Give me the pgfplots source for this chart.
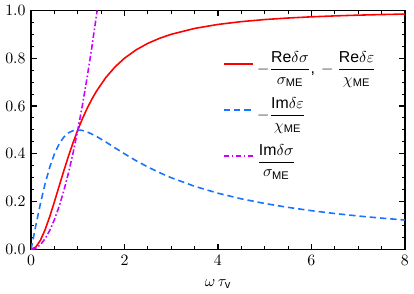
\documentclass[border=0pt]{standalone}
\usepackage{amsmath}
\usepackage{pgfplots}
\pgfplotsset{compat=1.18}
\usepackage{fontspec}
\setmainfont{Liberation Serif}
\newfontfamily\legfont{Liberation Sans}
\definecolor{cred}{rgb}{1,0,0}
\definecolor{cblue}{rgb}{0.1,0.45,1}
\definecolor{cmag}{rgb}{0.8,0,1}
\newcommand{\sv}[1]{\mbox{\legfont #1}}
\newcommand{\ssub}[1]{\mbox{\legfont\scriptsize #1}}
\begin{document}
\begin{tikzpicture}
\begin{axis}[
  scale only axis,
  width=236pt, height=151pt,
  xmin=0, xmax=8, ymin=0, ymax=1,
  xtick={0,2,4,6,8},
  ytick={0,0.2,0.4,0.6,0.8,1.0},
  minor x tick num=3,
  minor y tick num=3,
  yticklabel style={/pgf/number format/fixed,/pgf/number format/fixed zerofill,/pgf/number format/precision=1},
  major tick style={black, line width=0.8pt},
  minor tick style={black, line width=0.6pt},
  major tick length=3.5pt,
  minor tick length=2pt,
  axis line style={black, line width=1.1pt},
  xlabel={$\omega\,\tau_{\ssub{v}}$},
  xlabel style={yshift=-2pt},
  legend style={draw=none, fill=none, at={(0.5,0.855)}, anchor=north west, row sep=10pt, legend cell align=left},
  legend image code/.code={\draw[#1] (0cm,0cm) -- (0.65cm,0cm);},
  clip=true,
]
\addlegendimage{draw=cred, line width=1pt}
\addlegendentry{$-\dfrac{\sv{Re}\delta\sigma}{\sigma_{\ssub{ME}}}\mbox{\legfont\char44}\,-\dfrac{\sv{Re}\delta\varepsilon}{\chi_{\ssub{ME}}}$}
\addlegendimage{draw=cblue, line width=1pt, dash pattern=on 4pt off 2.5pt}
\addlegendentry{$-\dfrac{\sv{Im}\delta\varepsilon}{\chi_{\ssub{ME}}}$}
\addlegendimage{draw=cmag, line width=1pt, dash pattern=on 3.5pt off 1.5pt on 1pt off 1.5pt}
\addlegendentry{$\dfrac{\sv{Im}\delta\sigma}{\sigma_{\ssub{ME}}}$}
\addplot[forget plot, color=cred, line width=1pt] coordinates {
(0,0) (0.1,0.0099) (0.2,0.0385) (0.3,0.0826) (0.4,0.1379) (0.5,0.2) (0.6,0.2647) (0.7,0.3289) (0.8,0.3902) (0.9,0.4475) (1.0,0.5) (1.1,0.5475) (1.2,0.5902) (1.3,0.6283) (1.4,0.6622) (1.6,0.7191) (1.8,0.7642) (2.0,0.8) (2.25,0.8351) (2.5,0.8621) (2.75,0.8832) (3,0.9) (3.5,0.9245) (4,0.9412) (4.5,0.9529) (5,0.9615) (5.5,0.9680) (6,0.9730) (6.5,0.9769) (7,0.98) (7.5,0.9825) (8,0.9846)
};
\addplot[forget plot, color=cblue, line width=1pt, dash pattern=on 4pt off 2.5pt] coordinates {
(0,0) (0.1,0.0990) (0.2,0.1923) (0.3,0.2752) (0.4,0.3448) (0.5,0.4) (0.6,0.4412) (0.7,0.4698) (0.8,0.4878) (0.9,0.4972) (1.0,0.5) (1.1,0.4977) (1.2,0.4918) (1.4,0.4730) (1.6,0.4494) (1.8,0.4245) (2.0,0.4) (2.25,0.3711) (2.5,0.3448) (2.75,0.3212) (3,0.3) (3.5,0.2642) (4,0.2353) (4.5,0.2118) (5,0.1923) (5.5,0.1760) (6,0.1622) (6.5,0.1503) (7,0.14) (7.5,0.1311) (8,0.1231)
};
\addplot[forget plot, color=cmag, line width=1pt, dash pattern=on 3.5pt off 1.5pt on 1pt off 1.5pt] coordinates {
(0,0) (0.1,0.005) (0.2,0.02) (0.3,0.045) (0.4,0.08) (0.5,0.125) (0.6,0.18) (0.7,0.245) (0.8,0.32) (0.9,0.405) (1.0,0.5) (1.1,0.605) (1.2,0.72) (1.3,0.845) (1.4,0.98) (1.4142,1.0)
};
\end{axis}
\end{tikzpicture}
\end{document}
